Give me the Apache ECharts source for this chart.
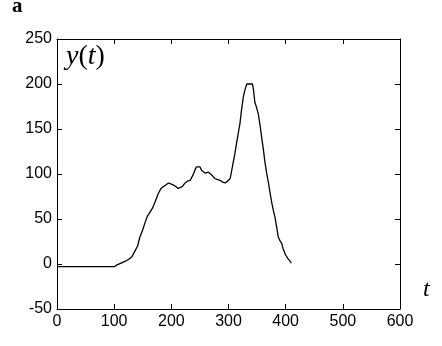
<!DOCTYPE html>
<html><head><meta charset="utf-8">
<script src="https://cdn.jsdelivr.net/npm/echarts@6/dist/echarts.min.js"></script>
<style>html,body{margin:0;padding:0;background:#fff}#c{width:442px;height:346px}</style>
</head><body><div id="c"></div>
<script>
var tValues = [0, 100, 105, 112, 119, 125, 131, 136, 141, 145, 150, 154, 158, 163, 167, 171, 177, 182, 186, 191, 195, 199, 203, 208, 212, 215, 219, 224, 228, 233, 238, 241, 244, 247, 250, 253, 256, 259, 262, 265, 268, 272, 276, 280, 285, 290, 294, 298, 303, 308, 311, 314, 317, 320, 323, 326, 329, 332, 335, 338, 340, 342, 344, 346, 349, 352, 355, 358, 361, 364, 367, 370, 373, 376, 379, 381, 384, 387, 390, 393, 396, 400, 404, 408, 410];
var yValues = [-3, -3, -1, 1, 3, 5, 8, 14, 20, 30, 38, 46, 53, 58, 62, 68, 78, 84, 86, 88, 90, 89, 88, 86, 84, 82, 86, 90, 92, 93, 99, 104, 108, 106, 108, 104, 102, 101, 103, 102, 100, 98, 95, 94, 93, 91, 90, 92, 95, 112, 122, 134, 145, 156, 172, 186, 194, 200, 201, 200, 202, 200, 192, 180, 174, 167, 155, 141, 127, 112, 100, 90, 78, 67, 58, 53, 42, 30, 26, 23, 16, 10, 6, 3, 1];
var xTicks = [0, 100, 200, 300, 400, 500, 600];
var yTicks = [-50, 0, 50, 100, 150, 200, 250];

var data = tValues.map(function(t, i){ return [t, yValues[i]]; });
var font = '"Liberation Sans", Arial, sans-serif';
var serif = '"Liberation Serif", "Times New Roman", serif';
var axisBase = {
  axisLine: {show: true, onZero: false, lineStyle: {color: '#000', width: 1}},
  axisTick: {show: true, inside: true, length: 5, lineStyle: {color: '#000', width: 1}},
  splitLine: {show: false}
};
function merge(a, b){ var o = {}; for (var k in a) o[k] = a[k]; for (var k2 in b) o[k2] = b[k2]; return o; }

var chart = echarts.init(document.getElementById('c'), null, {renderer: 'canvas'});
chart.setOption({
  animation: false,
  backgroundColor: '#fff',
  grid: {left: 57, right: 42, top: 39, bottom: 37},
  xAxis: [
    merge(axisBase, {type: 'value', min: xTicks[0], max: xTicks[xTicks.length-1], interval: 100, position: 'bottom',
      axisLabel: {color: '#000', fontSize: 16, fontFamily: font, margin: 5}}),
    merge(axisBase, {type: 'value', min: xTicks[0], max: xTicks[xTicks.length-1], interval: 100, position: 'top',
      axisLabel: {show: false}})
  ],
  yAxis: [
    merge(axisBase, {type: 'value', min: yTicks[0], max: yTicks[yTicks.length-1], interval: 50, position: 'left',
      axisLabel: {color: '#000', fontSize: 16, fontFamily: font, margin: 5}}),
    merge(axisBase, {type: 'value', min: yTicks[0], max: yTicks[yTicks.length-1], interval: 50, position: 'right',
      axisLabel: {show: false}})
  ],
  series: [{
    type: 'line', data: data, xAxisIndex: 0, yAxisIndex: 0,
    showSymbol: false, symbol: 'none',
    lineStyle: {color: '#000', width: 1.3}
  }],
  graphic: [
    {type: 'text', left: 12, top: -4, style: {text: 'a', font: 'bold 21px ' + serif, fill: '#000'}},
    {type: 'text', left: 66, top: 43, style: {
      text: '{i|y}{r|(}{i|t}{r|)}',
      rich: {
        i: {font: 'italic 28px ' + serif, fill: '#000', fontStyle: 'italic', fontSize: 28, fontFamily: serif},
        r: {font: '28px ' + serif, fill: '#000', fontSize: 28, fontFamily: serif}
      }
    }},
    {type: 'text', left: 423, top: 278, style: {text: 't', font: 'italic 24px ' + serif, fill: '#000'}}
  ]
});
</script></body></html>
